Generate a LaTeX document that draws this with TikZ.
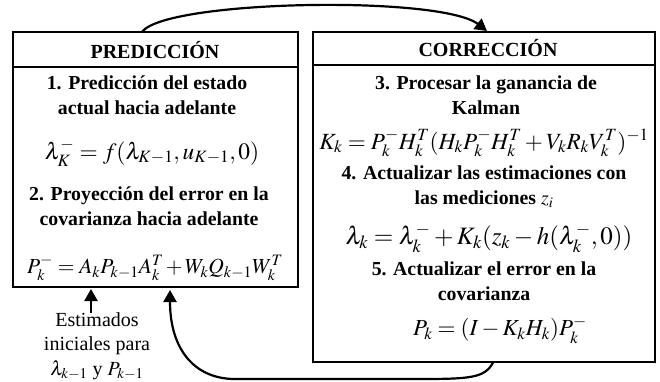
\documentclass[tikz,border=0pt]{standalone}
\usepackage{amsmath}
\usepackage{mathptmx}
\usepackage{fontspec}
\setmainfont{Liberation Serif}
\usetikzlibrary{arrows.meta}

\tikzset{
  caja/.style={draw, line width=2.5pt, inner sep=0pt},
  titulo/.style={font=\bfseries\fontsize{20}{24}\selectfont, inner sep=0pt},
  paso/.style={font=\bfseries\fontsize{19.8}{25}\selectfont, align=center, inner sep=0pt},
  formula/.style={font=\fontsize{#1}{26}\selectfont, inner sep=0pt},
  formula/.default=22,
  nota/.style={font=\fontsize{20}{24.5}\selectfont, align=center, inner sep=0pt},
  flecha/.style={line width=2.2pt, -{Triangle[length=12pt,width=13pt]}},
}

\begin{document}
\begin{tikzpicture}[x=1pt, y=-1pt]
  \useasboundingbox (0,0) rectangle (660,382);
  % bloque de prediccion
  \node[caja, minimum width=285pt, minimum height=255pt] (pred) at (155.5,159.5) {};
  \draw[line width=2.5pt] (13,67) -- (298,67);
  \node[titulo] (tpred) at (155,50) {PREDICCIÓN};
  \node[paso] (p1) at (147,95) {1. Predicción del estado\\actual hacia adelante};
  \node[formula=23.4] (f1) at (152,153) {$\lambda_K^- = f(\lambda_{K-1},u_{K-1},0)$};
  \node[paso] (p2) at (149,206.5) {2. Proyección del error en la\\covarianza hacia adelante};
  \node[formula=21.5] (f2) at (155,268) {\medmuskip=2mu
    $P_k^- = A_k P_{k-1} A_k^T + W_k Q_{k-1} W_k^T$};
  % bloque de correccion
  \node[caja, minimum width=342pt, minimum height=330pt] (corr) at (484,197) {};
  \draw[line width=2.5pt] (313,65) -- (655,65);
  \node[titulo] (tcorr) at (488,48) {CORRECCIÓN};
  \node[paso] (p3) at (486,95) {3. Procesar la ganancia de\\Kalman};
  \node[formula=23.2] (f3) at (484,143) {$K_k = P_k^- H_k^T (H_k P_k^- H_k^T + V_k R_k V_k^T)^{-1}$};
  \node[paso] (p4) at (484,187) {4. Actualizar las estimaciones con\\las mediciones $z_i$};
  \node[formula=25] (f4) at (489,238) {$\lambda_k = \lambda_k^- + K_k(z_k - h(\lambda_k^-,0))$};
  \node[paso] (p5) at (484,281) {5. Actualizar el error en la\\covarianza};
  \node[formula=23] (f5) at (500,330) {$P_k = (I - K_k H_k) P_k^-$};
  % estimados iniciales
  \node[nota] (ini) at (97,346) {Estimados\\iniciales para\\$\lambda_{k-1}$ y $P_{k-1}$};
  % conexiones
  \coordinate (s1) at (142,32);
  \coordinate (s2) at (487,31);
  \draw[flecha] (s1) .. controls (165,0) and (440,-5) .. (s2);
  \coordinate (s3) at (493,362.5);
  \coordinate (s4) at (170,290);
  \draw[flecha] (s3) .. controls (485,378) and (470,379) .. (420,379) -- (235,379)
    .. controls (195,379) and (170,350) .. (s4);
  \coordinate (s5) at (91,313);
  \coordinate (s6) at (91,289);
  \draw[flecha] (s5) -- (s6);
\end{tikzpicture}
\end{document}
